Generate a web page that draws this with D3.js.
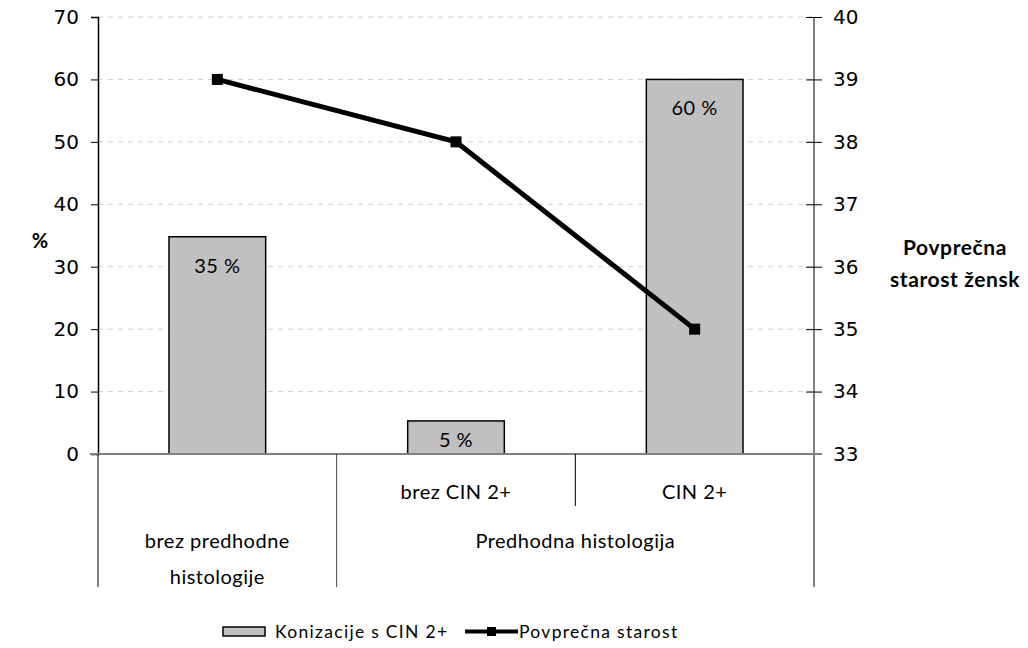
<!DOCTYPE html>
<html>
<head>
<meta charset="utf-8">
<script src="https://cdn.jsdelivr.net/npm/d3@7"></script>
<style>
  body { margin: 0; background: #fff; }
  text { font-family: Lato, "Open Sans", sans-serif; fill: #000; }
</style>
</head>
<body>
<div id="frame"></div>
<script>
const width = 1028
const height = 648
const margin = { top: 17, right: 214, bottom: 194, left: 98 }

// data
const categories = ['brez predhodne histologije', 'brez CIN 2+', 'CIN 2+']
const subLabels = ['', 'brez CIN 2+', 'CIN 2+']
const conization = [34.8, 5.3, 60]
const barLabels = ['35 %', '5 %', '60 %']
const meanAge = [39, 38, 35]
const groups = [
  { lines: ['brez predhodne', 'histologije'], from: 0, to: 0 },
  { lines: ['Predhodna histologija'], from: 1, to: 2 }
]
const leftTicks = [0, 10, 20, 30, 40, 50, 60, 70]
const rightTicks = [33, 34, 35, 36, 37, 38, 39, 40]

const style = {
  bar: { fill: '#c0c0c0', stroke: '#000' },
  grid: '#d0d0d0',
  axisGray: '#808080',
  fontSize: 20,
  tickFont: '"DejaVu Sans", sans-serif'
}

const innerW = width - margin.left - margin.right
const innerH = height - margin.top - margin.bottom

const svg = d3.select('#frame').append('svg')
  .attr('width', width)
  .attr('height', height)

const g = svg.append('g').attr('transform', `translate(${margin.left},${margin.top})`)

const x = d3.scaleBand().domain(categories).range([0, innerW]).padding(0)
const yL = d3.scaleLinear().domain([0, 70]).range([innerH, 0])
const yR = d3.scaleLinear().domain([33, 40]).range([innerH, 0])

// gridlines
g.selectAll('.grid').data(leftTicks.slice(1))
  .join('line')
  .attr('x1', 0).attr('x2', innerW)
  .attr('y1', d => yL(d)).attr('y2', d => yL(d))
  .attr('stroke', style.grid)
  .attr('stroke-dasharray', '5,5')

// bars
const barW = x.bandwidth() * 0.405
g.selectAll('.bar').data(conization)
  .join('rect')
  .attr('x', (d, i) => x(categories[i]) + (x.bandwidth() - barW) / 2)
  .attr('y', d => yL(d))
  .attr('width', barW)
  .attr('height', d => innerH - yL(d))
  .attr('fill', style.bar.fill)
  .attr('stroke', style.bar.stroke)
  .attr('stroke-width', 1.5)

g.selectAll('.barLabel').data(conization)
  .join('text')
  .attr('x', (d, i) => x(categories[i]) + x.bandwidth() / 2)
  .attr('y', d => Math.min(yL(d) + 36, innerH - 7))
  .attr('text-anchor', 'middle')
  .style('font-size', style.fontSize + 'px')
  .style('letter-spacing', '0.5px')
  .text((d, i) => barLabels[i])

// left axis
const leftAxis = g.append('g')
  .call(d3.axisLeft(yL).tickValues(leftTicks).tickFormat(d3.format('d')).tickSize(7).tickPadding(12))
leftAxis.select('.domain').attr('stroke', '#000').attr('stroke-width', 1.5)
leftAxis.selectAll('.tick line').attr('stroke', '#000')
leftAxis.selectAll('text').style('font-size', '20px').style('font-family', style.tickFont)

// right axis
const rightAxis = g.append('g').attr('transform', `translate(${innerW},0)`)
  .call(d3.axisRight(yR).tickValues(rightTicks).tickFormat(d3.format('d')).tickSize(8).tickPadding(11))
rightAxis.select('.domain').attr('stroke', style.axisGray).attr('stroke-width', 2)
  .attr('d', `M0,0V${innerH + 133}`)
rightAxis.selectAll('.tick line').attr('x1', -8).attr('stroke', '#000')
rightAxis.selectAll('text').style('font-size', '20px').style('font-family', style.tickFont)

// baseline
g.append('line')
  .attr('x1', -8).attr('x2', innerW + 8)
  .attr('y1', innerH).attr('y2', innerH)
  .attr('stroke', style.axisGray).attr('stroke-width', 2)

// category dividers
const divH = 133
g.append('line').attr('x1', 0).attr('x2', 0).attr('y1', innerH).attr('y2', innerH + divH)
  .attr('stroke', '#000')
g.append('line').attr('x1', x(categories[1])).attr('x2', x(categories[1]))
  .attr('y1', innerH).attr('y2', innerH + divH).attr('stroke', '#444')
g.append('line').attr('x1', x(categories[2])).attr('x2', x(categories[2]))
  .attr('y1', innerH).attr('y2', innerH + 52).attr('stroke', '#000')

// sub labels
g.selectAll('.sub').data(subLabels)
  .join('text')
  .attr('x', (d, i) => x(categories[i]) + x.bandwidth() / 2)
  .attr('y', innerH + 45)
  .attr('text-anchor', 'middle')
  .style('font-size', style.fontSize + 'px')
  .style('letter-spacing', '0.5px')
  .text(d => d)

// group labels
groups.forEach(grp => {
  const cx = (x(categories[grp.from]) + x(categories[grp.to]) + x.bandwidth()) / 2
  grp.lines.forEach((line, j) => {
    g.append('text')
      .attr('x', cx)
      .attr('y', innerH + 94 + j * 36)
      .attr('text-anchor', 'middle')
      .style('font-size', style.fontSize + 'px')
      .style('letter-spacing', '0.5px')
      .text(line)
  })
})

// line series
const px = (d, i) => x(categories[i]) + x.bandwidth() / 2
g.append('path')
  .datum(meanAge)
  .attr('d', d3.line().x(px).y(d => yR(d)))
  .attr('fill', 'none')
  .attr('stroke', '#000')
  .attr('stroke-width', 5)

g.selectAll('.marker').data(meanAge)
  .join('rect')
  .attr('x', (d, i) => px(d, i) - 5.5)
  .attr('y', d => yR(d) - 5.5)
  .attr('width', 11).attr('height', 11)
  .attr('fill', '#000')

// axis titles
svg.append('text')
  .attr('x', 40).attr('y', 248)
  .attr('text-anchor', 'middle')
  .style('font-size', '20px')
  .style('font-weight', 'bold')
  .text('%')

const rt = svg.append('text')
  .attr('text-anchor', 'middle')
  .style('font-size', '21px')
  .style('font-weight', 'bold')
  .style('letter-spacing', '0.6px')
rt.append('tspan').attr('x', 955).attr('y', 255).text('Povprečna')
rt.append('tspan').attr('x', 955).attr('y', 287).text('starost žensk')

// legend
const lg = svg.append('g').attr('transform', 'translate(223,627)')
lg.append('rect').attr('x', 0).attr('y', 0).attr('width', 42).attr('height', 9)
  .attr('fill', style.bar.fill).attr('stroke', '#000').attr('stroke-width', 1.5)
lg.append('text').attr('x', 52).attr('y', 11)
  .style('font-size', '17.5px').style('letter-spacing', '1.3px')
  .text('Konizacije s CIN 2+')
lg.append('line').attr('x1', 242).attr('x2', 295).attr('y1', 4.5).attr('y2', 4.5)
  .attr('stroke', '#000').attr('stroke-width', 4)
lg.append('rect').attr('x', 264).attr('y', 0).attr('width', 9).attr('height', 9).attr('fill', '#000')
lg.append('text').attr('x', 296).attr('y', 11)
  .style('font-size', '17.5px').style('letter-spacing', '1.3px')
  .text('Povprečna starost')
</script>
</body>
</html>
